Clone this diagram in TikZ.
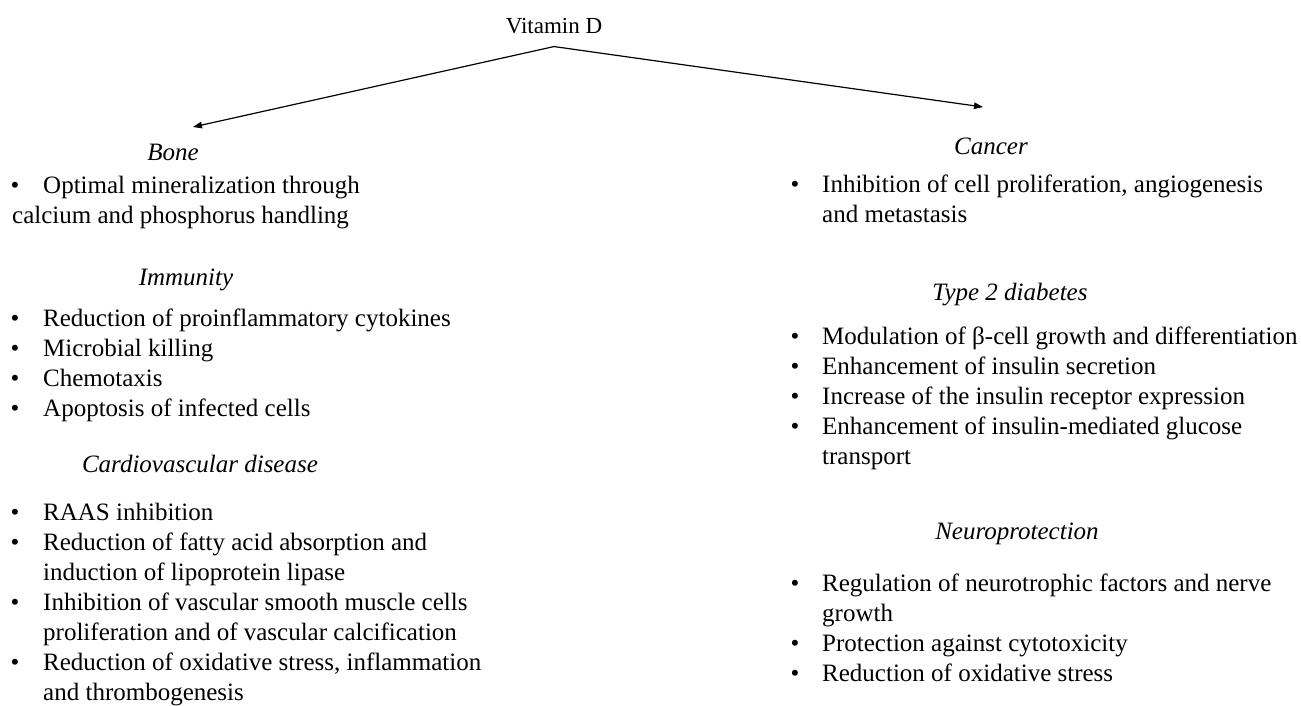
\documentclass[tikz,border=0pt]{standalone}
\usepackage{fontspec}
\setmainfont{Liberation Serif}
\usetikzlibrary{arrows.meta}
\begin{document}
\begin{tikzpicture}[x=1pt,y=-1pt,
  txt/.style={anchor=base west, inner sep=0pt, font=\fontsize{25}{30}\selectfont},
  hd/.style={anchor=base, inner sep=0pt, font=\fontsize{25}{30}\selectfont\itshape},
  bul/.style={anchor=base, inner sep=0pt, font=\fontsize{25}{30}\selectfont},
  arr/.style={line width=1.2pt, -{Triangle[length=9pt,width=6.5pt]}}]
\useasboundingbox[fill=white] (0,0) rectangle (1301,705);

% top
\node[anchor=base, inner sep=0pt, font=\fontsize{23}{28}\selectfont] (vit) at (554,33) {Vitamin D};
\coordinate (tipL) at (193,127);
\coordinate (tipR) at (983,107);
\draw[arr] ([yshift=-13pt]vit.south) -- (tipL);
\draw[arr] ([yshift=-13pt]vit.south) -- (tipR);

% Bone
\node[hd] (bone) at (173,160) {Bone};
\node[bul] (bb1) at (15,193) {•};
\node[txt] (bt1) at (43,193) {Optimal mineralization through};
\node[txt] (bt1b) at (12,223) {calcium and phosphorus handling};

% Immunity
\node[hd] (imm) at (186,285) {Immunity};
\node[bul] (ib1) at (15,326) {•};
\node[txt] (it1) at (43,326) {Reduction of proinflammatory cytokines};
\node[bul] (ib2) at (15,356) {•};
\node[txt] (it2) at (43,356) {Microbial killing};
\node[bul] (ib3) at (15,386) {•};
\node[txt] (it3) at (43,386) {Chemotaxis};
\node[bul] (ib4) at (15,416) {•};
\node[txt] (it4) at (43,416) {Apoptosis of infected cells};

% Cardiovascular
\node[hd] (cvd) at (200,472) {Cardiovascular disease};
\node[bul] (cb1) at (15,520) {•};
\node[txt] (ct1) at (43,520) {RAAS inhibition};
\node[bul] (cb2) at (15,550) {•};
\node[txt] (ct2) at (43,550) {Reduction of fatty acid absorption and};
\node[txt] (ct2b) at (43,580) {induction of lipoprotein lipase};
\node[bul] (cb3) at (15,610) {•};
\node[txt] (ct3) at (43,610) {Inhibition of vascular smooth muscle cells};
\node[txt] (ct3b) at (43,640) {proliferation and of vascular calcification};
\node[bul] (cb4) at (15,670) {•};
\node[txt] (ct4) at (43,670) {Reduction of oxidative stress, inflammation};
\node[txt] (ct4b) at (43,700) {and thrombogenesis};

% Cancer
\node[hd] (can) at (991,154) {Cancer};
\node[bul] (kb1) at (795,192) {•};
\node[txt] (kt1) at (822,192) {Inhibition of cell proliferation, angiogenesis};
\node[txt] (kt1b) at (822,222) {and metastasis};

% Type 2 diabetes
\node[hd] (t2d) at (1010,300) {Type 2 diabetes};
\node[bul] (db1) at (795,344) {•};
\node[txt] (dt1) at (822,344) {Modulation of β-cell growth and differentiation};
\node[bul] (db2) at (795,374) {•};
\node[txt] (dt2) at (822,374) {Enhancement of insulin secretion};
\node[bul] (db3) at (795,404) {•};
\node[txt] (dt3) at (822,404) {Increase of the insulin receptor expression};
\node[bul] (db4) at (795,434) {•};
\node[txt] (dt4) at (822,434) {Enhancement of insulin-mediated glucose};
\node[txt] (dt4b) at (822,464) {transport};

% Neuroprotection
\node[hd] (neu) at (1017,539) {Neuroprotection};
\node[bul] (nb1) at (795,591) {•};
\node[txt] (nt1) at (822,591) {Regulation of neurotrophic factors and nerve};
\node[txt] (nt1b) at (822,621) {growth};
\node[bul] (nb2) at (795,651) {•};
\node[txt] (nt2) at (822,651) {Protection against cytotoxicity};
\node[bul] (nb3) at (795,681) {•};
\node[txt] (nt3) at (822,681) {Reduction of oxidative stress};
\end{tikzpicture}
\end{document}
